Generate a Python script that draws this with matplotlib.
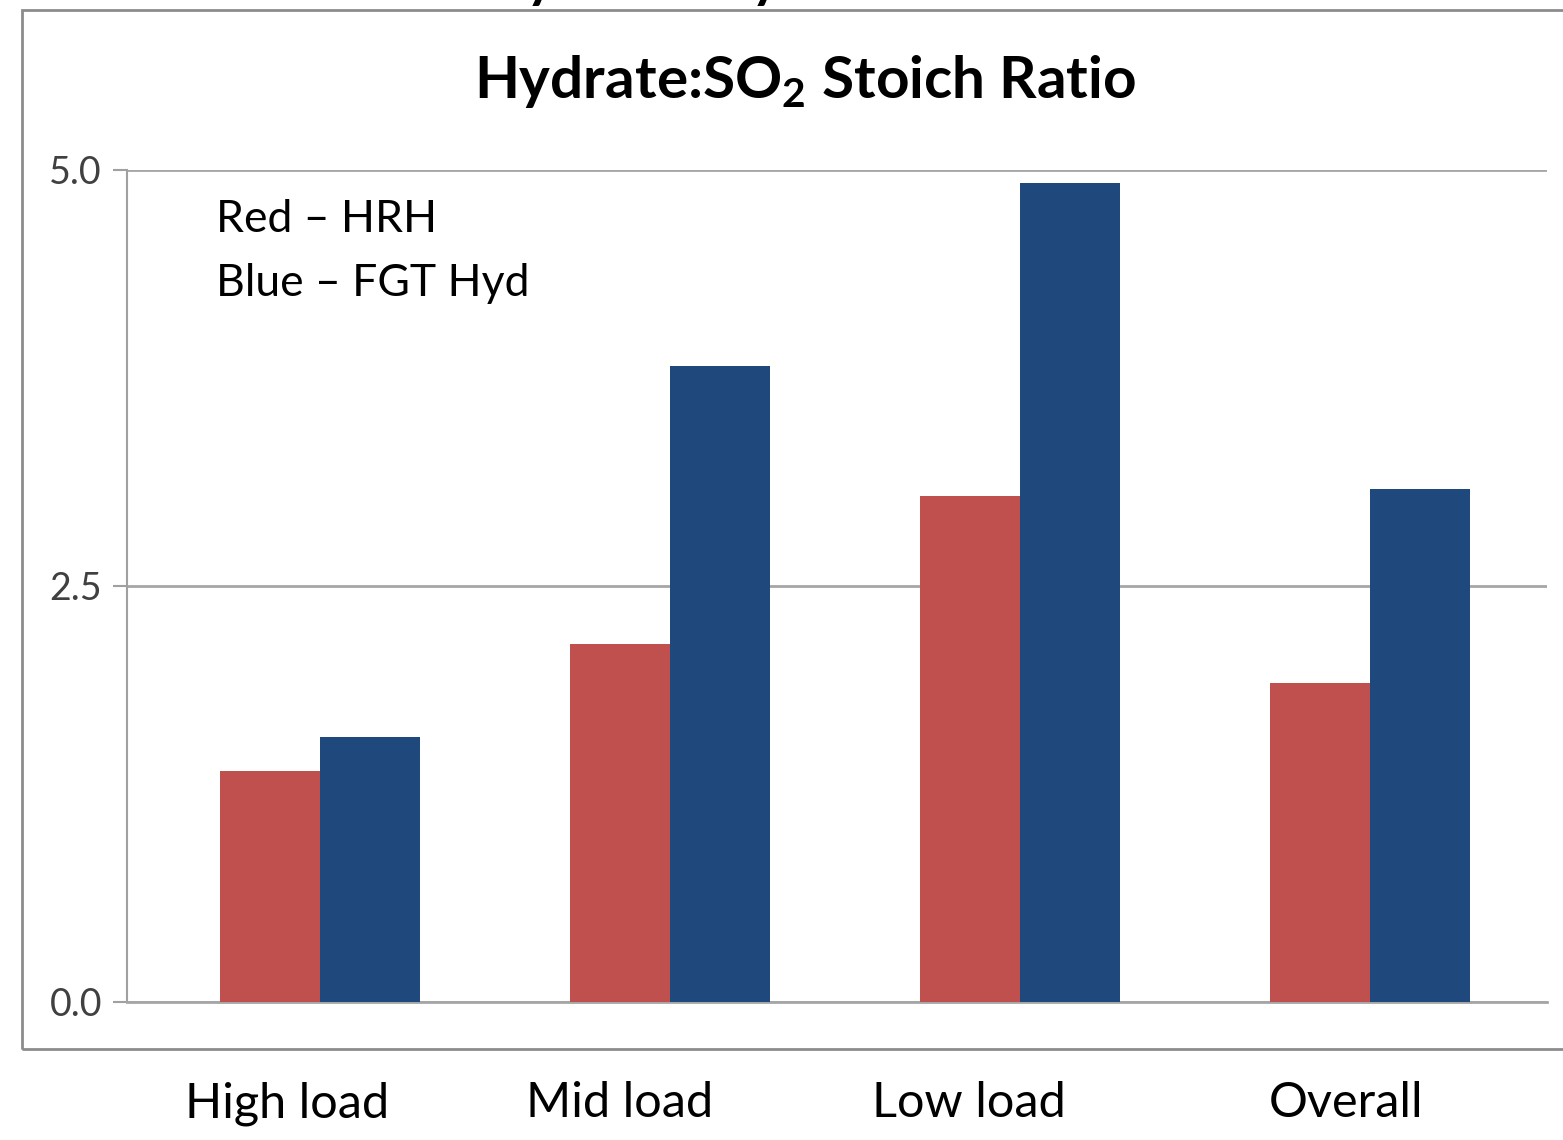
import numpy as np
import matplotlib
matplotlib.use("Agg")
import matplotlib.pyplot as plt
import matplotlib.transforms as mtransforms
from matplotlib.patches import Rectangle

# Datos
categories = ["High load", "Mid load", "Low load", "Overall"]
hrh = [1.39, 2.15, 3.04, 1.92]       # Red - HRH
fgt_hyd = [1.59, 3.82, 4.92, 3.08]   # Blue - FGT Hyd
y_ticks = [0.0, 2.5, 5.0]

plt.rcParams['font.family'] = ['Lato', 'DejaVu Sans']
plt.rcParams['mathtext.fontset'] = 'custom'
plt.rcParams['mathtext.rm'] = 'Lato'
plt.rcParams['mathtext.bf'] = 'Lato:bold'

fig = plt.figure(figsize=(15.63, 11.40), dpi=100)

# marco exterior del grafico (cortado a la derecha)
fig.patches.append(Rectangle((22 / 1563, 1 - 1049 / 1140), 1.05, (1049 - 10) / 1140,
                             transform=fig.transFigure, fill=False,
                             edgecolor='#8c8c8c', linewidth=2, clip_on=False))

ax = fig.add_axes([127 / 1563, 1 - 1002 / 1140, (1547 - 127) / 1563, (1002 - 170) / 1140])

x = np.arange(len(categories))
width = 0.285
ax.bar(x - width / 2, hrh, width, color='#C0504D', zorder=3)
ax.bar(x + width / 2, fgt_hyd, width, color='#1F497D', zorder=3)

ax.set_ylim(0, 5.0)
ax.set_xlim(-0.551, 3.506)
ax.set_yticks(y_ticks)
ax.set_yticklabels([f"{v:.1f}" for v in y_ticks], fontsize=27, color='#404040')
ax.tick_params(axis='y', length=10, width=1.5, color='#a0a0a0', pad=8)
ax.yaxis.grid(True, color='#a6a6a6', linewidth=2, zorder=0)

for s in ['top', 'right']:
    ax.spines[s].set_visible(False)
ax.spines['left'].set_color('#a0a0a0')
ax.spines['left'].set_linewidth(1.5)
ax.spines['bottom'].set_color('#a6a6a6')
ax.spines['bottom'].set_linewidth(2)

# etiquetas de categorias, desplazadas como en la imagen original
ax.set_xticks(x)
ax.set_xticklabels(categories, fontsize=35, color='black')
ax.tick_params(axis='x', length=0, pad=57)
offsets_px = [-33, -50, -51, -24]
for lbl, dx in zip(ax.get_xticklabels(), offsets_px):
    lbl.set_transform(lbl.get_transform() + mtransforms.ScaledTranslation(dx / 100, 0, fig.dpi_scale_trans))

# titulo
fig.text(805 / 1563, 1 - 81 / 1140, r"Hydrate:SO$_\mathbf{2}$ Stoich Ratio",
         fontsize=42, fontweight='bold', ha='center', va='center')

# leyenda escrita a mano
ax.text(216 / 1563, 1 - 220 / 1140, "Red \u2013 HRH", transform=fig.transFigure,
        fontsize=32, va='center', ha='left')
ax.text(216 / 1563, 1 - 283 / 1140, "Blue \u2013 FGT Hyd", transform=fig.transFigure,
        fontsize=32, va='center', ha='left')

# restos del texto cortado arriba
fig.text(540 / 1563, 1 + 3 / 1140, "y", fontsize=40, fontweight='bold', ha='center', va='baseline')
fig.text(765 / 1563, 1 + 3 / 1140, "y", fontsize=40, fontweight='bold', ha='center', va='baseline')

fig.savefig("out.png", dpi=100)
